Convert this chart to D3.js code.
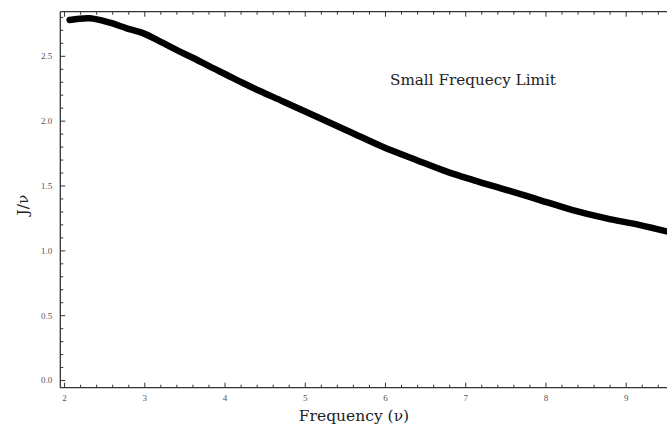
<!DOCTYPE html>
<html>
<head>
<meta charset="utf-8">
<script src="https://cdn.jsdelivr.net/npm/d3@7"></script>
<style>
  html, body { margin: 0; padding: 0; background: #fff; }
  svg { display: block; }
</style>
</head>
<body>
<svg id="chart" width="667" height="427"></svg>
<script>
// ---- data ----
const frequency = [2.07, 2.32, 2.57, 2.78, 2.99, 3.20, 3.40, 3.61, 3.82, 4.03, 4.23, 4.44, 4.73, 5.15, 5.56, 5.97, 6.39, 6.77, 7.10, 7.52, 7.93, 8.34, 8.76, 9.18, 9.55];
const jOverNu  = [2.776, 2.789, 2.755, 2.712, 2.673, 2.609, 2.545, 2.483, 2.416, 2.352, 2.290, 2.228, 2.148, 2.030, 1.915, 1.799, 1.697, 1.607, 1.542, 1.465, 1.388, 1.311, 1.247, 1.195, 1.140];
const xTickValues = [2, 3, 4, 5, 6, 7, 8, 9];
const yTickValues = [0.0, 0.5, 1.0, 1.5, 2.0, 2.5];
const annotation = "Small Frequecy Limit";
const xLabel = "Frequency (\u03BD)";
const yLabel = "J/\u03BD";

const svg = d3.select("#chart");
const plotLeft = 60.3, plotTop = 11.7, plotBottom = 387.7;

const x = d3.scaleLinear().domain([1.953, 9.6]).range([plotLeft, plotLeft + 7.647 * 80.23]);
const y = d3.scaleLinear().domain([-0.059, 2.84]).range([plotBottom, plotTop]);

const axisColor = "#333";
const serif = "'Liberation Serif', 'DejaVu Serif', serif";
const labelSerif = "'DejaVu Serif', 'Liberation Serif', serif";

const xMinor = d3.range(2, 9.61, 0.2).map(v => +v.toFixed(2)).filter(v => !xTickValues.includes(v));
const yMinor = d3.range(0, 2.84, 0.1).map(v => +v.toFixed(2)).filter(v => !yTickValues.some(t => Math.abs(t - v) < 1e-6));

function styleAxis(g) {
  g.select(".domain").remove();
  g.selectAll("line").attr("stroke", axisColor).attr("stroke-width", 1);
  g.selectAll("text").attr("fill", "#555").attr("font-family", serif).attr("font-size", 9);
}

// bottom axis
svg.append("g").attr("transform", `translate(0,${plotBottom})`)
  .call(d3.axisBottom(x).tickValues(xTickValues).tickSize(-5).tickPadding(7).tickFormat(d3.format("d")))
  .call(styleAxis);
svg.append("g").attr("transform", `translate(0,${plotBottom})`)
  .call(d3.axisBottom(x).tickValues(xMinor).tickSize(-3).tickFormat(""))
  .call(styleAxis);
// top axis
svg.append("g").attr("transform", `translate(0,${plotTop})`)
  .call(d3.axisTop(x).tickValues(xTickValues).tickSize(-5).tickFormat(""))
  .call(styleAxis);
svg.append("g").attr("transform", `translate(0,${plotTop})`)
  .call(d3.axisTop(x).tickValues(xMinor).tickSize(-3).tickFormat(""))
  .call(styleAxis);
// left axis
svg.append("g").attr("transform", `translate(${plotLeft},0)`)
  .call(d3.axisLeft(y).tickValues(yTickValues).tickSize(-5).tickPadding(8).tickFormat(d3.format(".1f")))
  .call(styleAxis);
svg.append("g").attr("transform", `translate(${plotLeft},0)`)
  .call(d3.axisLeft(y).tickValues(yMinor).tickSize(-3).tickFormat(""))
  .call(styleAxis);

// frame lines
svg.append("line").attr("x1", plotLeft).attr("x2", 667).attr("y1", plotBottom).attr("y2", plotBottom)
  .attr("stroke", axisColor).attr("stroke-width", 1.3);
svg.append("line").attr("x1", plotLeft).attr("x2", 667).attr("y1", plotTop).attr("y2", plotTop)
  .attr("stroke", axisColor).attr("stroke-width", 1.3);
svg.append("line").attr("x1", plotLeft).attr("x2", plotLeft).attr("y1", plotTop).attr("y2", plotBottom)
  .attr("stroke", axisColor).attr("stroke-width", 1.3);

// curve
const pts = frequency.map((f, i) => [f, jOverNu[i]]);
svg.append("path")
  .datum(pts)
  .attr("fill", "none")
  .attr("stroke", "#000")
  .attr("stroke-width", 6.5)
  .attr("stroke-linecap", "round")
  .attr("stroke-linejoin", "round")
  .attr("d", d3.line().x(d => x(d[0])).y(d => y(d[1])).curve(d3.curveCatmullRom));

// annotation
svg.append("text").attr("x", 390).attr("y", 85)
  .attr("font-family", labelSerif).attr("font-size", 15.2).attr("fill", "#222")
  .text(annotation);

// axis labels
svg.append("text").attr("x", 354).attr("y", 421).attr("text-anchor", "middle")
  .attr("font-family", labelSerif).attr("font-size", 15.5).attr("fill", "#222")
  .text(xLabel);
svg.append("text").attr("transform", "translate(28,205) rotate(-90)").attr("text-anchor", "middle")
  .attr("font-family", labelSerif).attr("font-size", 15.5).attr("fill", "#222")
  .text(yLabel);
</script>
</body>
</html>
